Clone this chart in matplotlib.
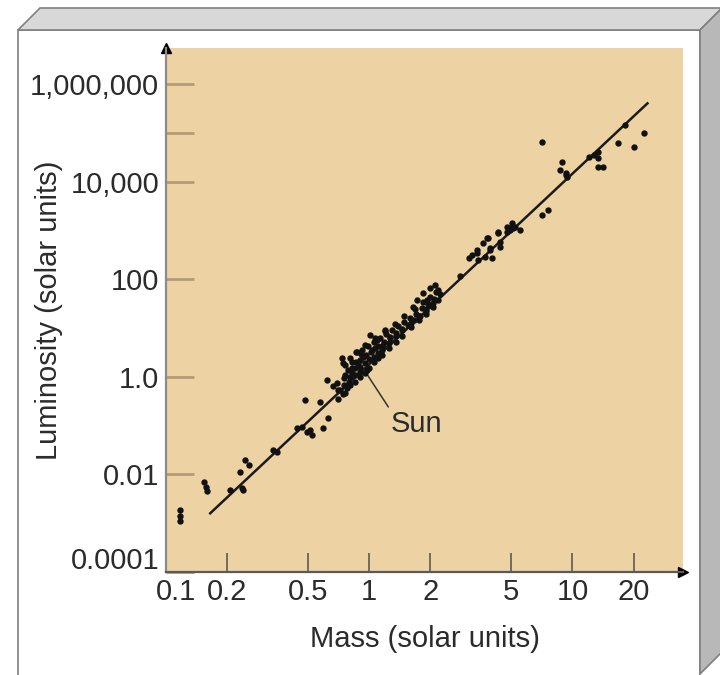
import matplotlib.pyplot as plt
from matplotlib.patches import Polygon
from matplotlib.ticker import NullLocator
from matplotlib.transforms import ScaledTranslation

plt.rcParams['font.family'] = ['Liberation Sans', 'DejaVu Sans']

# stars: mass and luminosity in solar units
mass = [0.117, 0.117, 0.117, 0.154, 0.157, 0.159, 0.207, 0.231, 0.237, 0.240, 0.245, 0.256, 0.336, 0.352,
        0.441, 0.468, 0.495, 0.512, 0.524, 0.484, 0.574, 0.628, 0.594,
        0.621, 0.665, 0.695, 0.719, 0.761, 0.779, 0.797, 0.736, 0.744, 0.824, 0.824, 0.853, 0.873, 0.883,
        0.903, 0.933, 0.977, 0.761,
        0.761, 0.805, 0.824, 0.863, 0.903, 0.924, 0.966, 0.989, 1.035, 1.06, 1.107, 1.13, 1.186, 1.213,
        1.27, 1.3, 1.358, 1.39, 1.455, 1.486, 1.556, 1.592, 1.667, 1.706, 1.782, 1.824, 1.91, 1.954, 2.04,
        2.09, 2.19, 2.24, 2.14, 1.995, 1.845, 1.686, 1.486, 1.343, 1.2, 1.07, 0.955,
        1.01, 1.094, 1.2, 1.27, 1.07, 1.17,
        0.70, 0.70, 0.75, 0.75, 0.74, 0.80, 0.80, 0.79, 0.85, 0.85, 0.86, 0.90, 0.90, 0.91,
        0.95, 0.95, 1.0, 1.0, 1.02, 1.05, 1.05, 1.1, 1.1, 1.15, 1.15, 1.25, 1.25, 1.35, 1.35,
        1.45, 1.45, 1.6, 1.6, 1.75, 1.75, 1.9, 1.9, 2.05, 2.05,
        1.845, 1.995, 2.11, 2.19, 1.722, 1.648, 1.93, 2.81,
        3.08, 3.21, 3.40, 3.44, 3.81, 3.94, 4.04, 4.32, 4.42, 4.79, 4.95, 5.24,
        3.40, 3.65, 3.86, 3.73, 3.94, 4.32, 4.42, 4.79, 4.95, 5.12, 5.06, 5.54,
        7.11, 7.62, 8.73, 9.25, 8.93, 7.11, 9.25, 9.45, 12.0, 12.7, 13.3, 13.3, 13.4, 14.1,
        16.7, 18.2, 20.0, 22.4]
lum = [1.9e-3, 1.4e-3, 1.1e-3, 7.0e-3, 5.6e-3, 4.6e-3, 4.8e-3, 0.0112, 5.3e-3, 4.7e-3, 0.0198, 0.0157, 0.032, 0.029,
       0.090, 0.094, 0.075, 0.082, 0.065, 0.34, 0.31, 0.144, 0.090,
       0.87, 0.65, 0.75, 0.54, 0.47, 0.60, 0.79, 2.45, 1.94, 2.03, 1.21, 1.53, 3.26, 1.94,
       1.27, 2.57, 1.39, 1.1,
       1.76, 2.45, 1.53, 3.26, 2.23, 3.58, 2.8, 4.32, 3.58, 5.22, 4.32, 6.31, 5.22, 7.62,
       6.31, 9.2, 8.0, 11.1, 9.66, 13.4, 11.7, 16.2, 14.8, 19.6, 17.8, 26.0, 22.6, 31.4, 28.6,
       39.8, 37.9, 50.4, 55.4, 43.8, 34.5, 24.8, 17.8, 12.2, 8.8, 6.31, 4.53,
       7.27, 5.74, 9.2, 6.62, 3.93, 4.53,
       0.55, 0.35, 0.7, 0.95, 0.45, 1.0, 0.7, 1.4, 1.1, 0.8, 2.0, 1.6, 1.0, 3.0,
       1.9, 1.2, 2.3, 1.5, 3.2, 2.6, 2.0, 3.1, 2.4, 3.6, 2.8, 5.0, 3.9, 6.8, 5.3,
       9.0, 7.0, 13, 10.5, 18, 14.5, 25, 20, 33, 27,
       52.9, 67, 77, 61, 37.9, 27.3, 37.9, 118,
       276, 318, 350, 251, 710, 403, 276, 899, 464, 942, 1140, 1190,
       403, 561, 710, 290, 443, 942, 588, 1190, 1035, 1140, 1440, 1035,
       2100, 2670, 17600, 13900, 25700, 66200, 15300, 12700, 32600, 35800, 41200, 31000, 20300, 20300,
       63100, 147000, 52200, 101000]

fit_mass = [0.165, 23.4]
fit_lum = [1.6e-3, 4.1e5]

sun_mass, sun_lum = 0.98, 1.1

mass_ticks = [0.1, 0.2, 0.5, 1, 2, 5, 10, 20]
mass_labels = ['0.1', '0.2', '0.5', '1', '2', '5', '10', '20']
lum_ticks = [1e-4, 1e-2, 1, 1e2, 1e4, 1e5, 1e6]
lum_labels = ['0.0001', '0.01', '1.0', '100', '10,000', '', '1,000,000']

W, H = 720, 675


def fp(x, y):
    return (x / W, 1 - y / H)


fig = plt.figure(figsize=(7.2, 6.75), dpi=100)

# box look around the figure
front = Polygon([fp(18, 30), fp(700, 30), fp(700, 700), fp(18, 700)], transform=fig.transFigure,
                facecolor='white', edgecolor='#8a8a8a', lw=1.3, zorder=-10)
top = Polygon([fp(18, 30), fp(40, 8), fp(722, 8), fp(700, 30)], transform=fig.transFigure,
              facecolor='#d8d8d8', edgecolor='#808080', lw=1.2, zorder=-9)
side = Polygon([fp(700, 30), fp(722, 8), fp(722, 652), fp(700, 674)], transform=fig.transFigure,
               facecolor='#b8b8b8', edgecolor='#808080', lw=1.2, zorder=-9)
for p in (front, top, side):
    fig.add_artist(p)

ax = fig.add_axes([166 / W, 1 - 572 / H, (683 - 166) / W, (572 - 48) / H])
ax.set_facecolor('#edd3a4')
ax.set_xscale('log')
ax.set_yscale('log')
ax.set_xlim(0.1, 35)
ax.set_ylim(1e-4, 5.6e6)

ax.plot(fit_mass, fit_lum, color='#1a1a1a', lw=1.8, zorder=3)
ax.scatter(mass, lum, s=21, color='#111111', linewidths=0, zorder=4)

ax.annotate('Sun', xy=(sun_mass, sun_lum), xytext=(1.27, 0.11), fontsize=21, color='#2b2b2b',
            ha='left', va='center',
            arrowprops=dict(arrowstyle='-', color='#333333', lw=1.1, shrinkA=0, shrinkB=0,
                            relpos=(0.05, 0.85)))

for s in ('top', 'right'):
    ax.spines[s].set_visible(False)
ax.spines['left'].set_color('#8c8c8c')
ax.spines['left'].set_linewidth(1.6)
ax.spines['bottom'].set_color('#5a5a5a')
ax.spines['bottom'].set_linewidth(1.6)
ax.plot([0], [1], marker='^', color='black', ms=7, transform=ax.transAxes, clip_on=False)
ax.plot([1], [0], marker='>', color='black', ms=7, transform=ax.transAxes, clip_on=False)

ax.set_xticks(mass_ticks, mass_labels)
ax.set_yticks(lum_ticks, lum_labels)
ax.xaxis.set_minor_locator(NullLocator())
ax.yaxis.set_minor_locator(NullLocator())
ax.tick_params(axis='x', direction='in', length=14, width=1.3, color='#6e6250',
               labelsize=21, labelcolor='#2b2b2b', pad=4)
ax.tick_params(axis='y', direction='in', length=20, width=2, color='#b39c78',
               labelsize=21, labelcolor='#2b2b2b', pad=5)

# the corner labels sit a little apart in the original
lab = ax.get_xticklabels()[0]
lab.set_transform(lab.get_transform() + ScaledTranslation(0.1, 0, fig.dpi_scale_trans))
lab = ax.get_yticklabels()[0]
lab.set_transform(lab.get_transform() + ScaledTranslation(0, 0.14, fig.dpi_scale_trans))

ax.set_xlabel('Mass (solar units)', fontsize=21, color='#2b2b2b', labelpad=14)
ax.set_ylabel('Luminosity (solar units)', fontsize=21, color='#2b2b2b')
ax.yaxis.set_label_coords(-0.2, 0.5)

fig.savefig('out.png', dpi=100)
